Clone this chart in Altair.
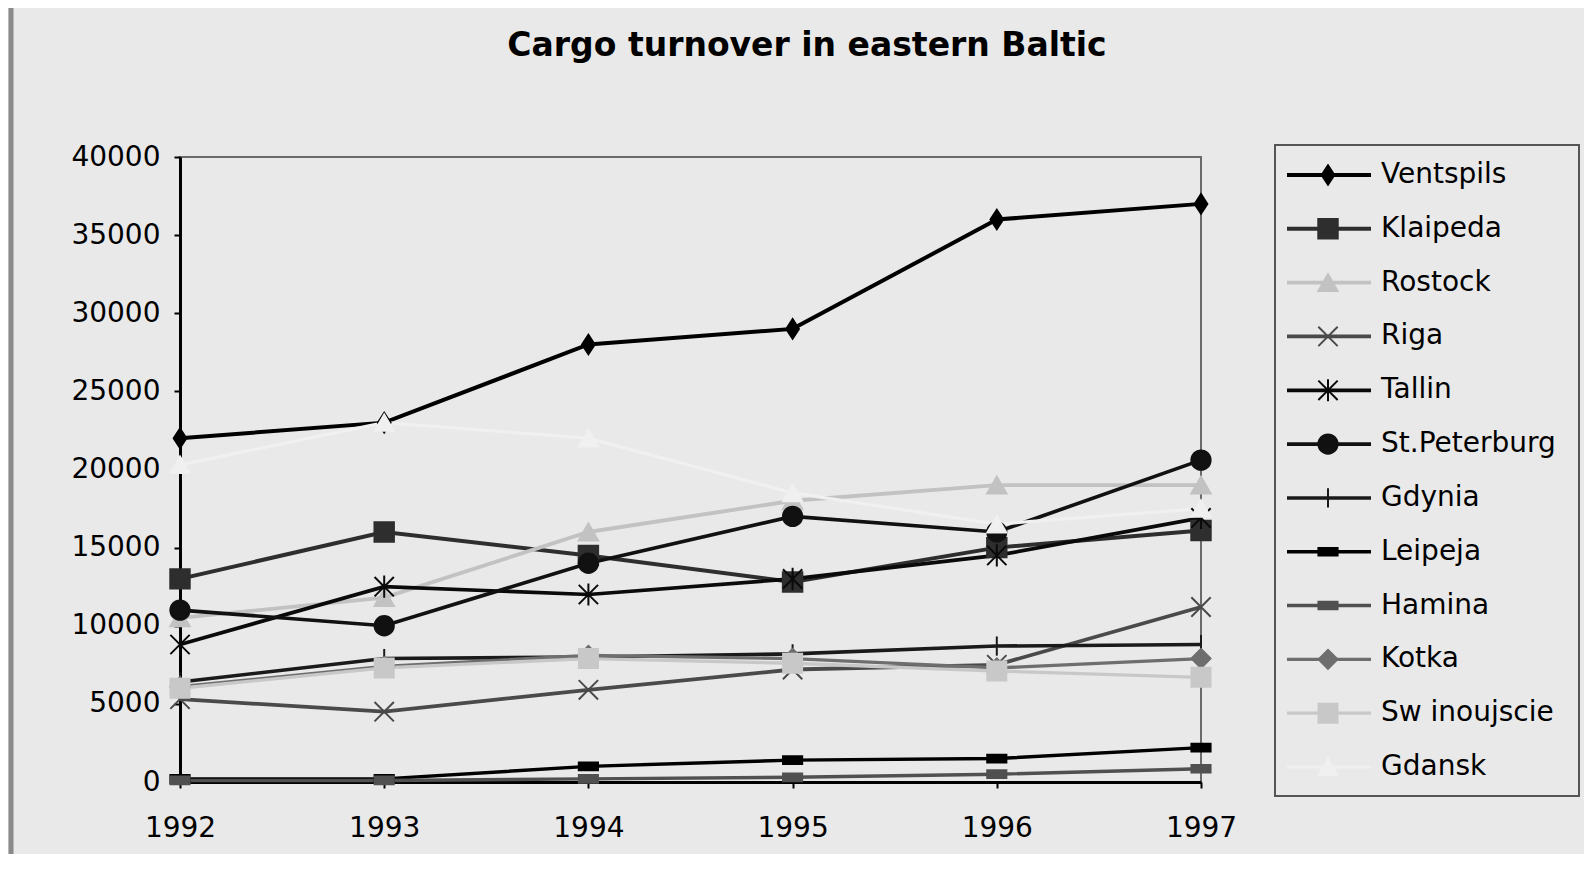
import altair as alt
import pandas as pd

years = [1992, 1993, 1994, 1995, 1996, 1997]
series_names = ["Ventspils", "Klaipeda", "Rostock", "Riga", "Tallin", "St.Peterburg",
                "Gdynia", "Leipeja", "Hamina", "Kotka", "Sw inoujscie", "Gdansk"]

ventspils = [22000, 23000, 28000, 29000, 36000, 37000]
klaipeda = [13000, 16000, 14500, 12800, 15000, 16100]
rostock = [10500, 11800, 16000, 18000, 19000, 19000]
riga = [5300, 4500, 5900, 7200, 7500, 11200]
tallin = [8800, 12500, 12000, 13000, 14500, 16900]
st_peterburg = [11000, 10000, 14000, 17000, 16000, 20600]
gdynia = [6400, 7900, 8000, 8200, 8700, 8800]
leipeja = [200, 200, 1000, 1400, 1500, 2200]
hamina = [100, 100, 200, 300, 500, 850]
kotka = [6100, 7400, 8100, 7900, 7300, 7900]
swinoujscie = [6000, 7300, 7900, 7600, 7100, 6700]
gdansk = [20300, 23000, 22000, 18500, 16500, 17500]

all_values = [ventspils, klaipeda, rostock, riga, tallin, st_peterburg,
              gdynia, leipeja, hamina, kotka, swinoujscie, gdansk]

colors = ["#000000", "#2e2e2e", "#c2c2c2", "#4a4a4a", "#0a0a0a", "#111111",
          "#1a1a1a", "#000000", "#505050", "#6e6e6e", "#c8c8c8", "#f0f0f0"]
shapes = ["M0,-1L0.65,0L0,1L-0.65,0Z", "square", "triangle-up",
          "M-1,-1L1,1M-1,1L1,-1", "M-1,-1L1,1M-1,1L1,-1M0,-1.15L0,1.15", "circle",
          "M0,-1L0,1", "M-1,-0.4L1,-0.4L1,0.4L-1,0.4Z", "M-1,-0.4L1,-0.4L1,0.4L-1,0.4Z",
          "diamond", "square", "triangle-up"]
sizes = [380, 360, 220, 300, 300, 440, 400, 256, 324, 300, 300, 220]
line_widths = [4, 3.2, 2, 2.5, 3.2, 3.2, 3, 3.2, 3, 3, 2, 2]

rows = []
for name, vals in zip(series_names, all_values):
    for yr, v in zip(years, vals):
        rows.append({"series": name, "year": yr, "value": v})
df = pd.DataFrame(rows)
leg = pd.DataFrame({"series": series_names, "idx": list(range(len(series_names)))})
one = pd.DataFrame({"a": [0]})

W, H = 1021, 625
FONT = "DejaVu Sans"

color_scale = alt.Scale(domain=series_names, range=colors)
shape_scale = alt.Scale(domain=series_names, range=shapes)
size_scale = alt.Scale(domain=series_names, range=sizes)
width_scale = alt.Scale(domain=series_names, range=line_widths)

xs = alt.Scale(domain=[1992, 1997], nice=False, zero=False)
ys = alt.Scale(domain=[0, 40000], nice=False)

x_axis = alt.Axis(values=years, format="d", title=None, grid=False, labelFont=FONT,
                  labelFontSize=28, labelColor="black", labelPadding=26, tickSize=6,
                  tickWidth=2, tickColor="black", domainColor="black", domainWidth=3,
                  labelFlush=False)
y_axis = alt.Axis(values=list(range(0, 40001, 5000)), format="d", title=None, grid=False,
                  labelFont=FONT, labelFontSize=28, labelColor="black", labelPadding=14,
                  tickSize=6, tickWidth=2, tickColor="black", domainColor="black",
                  domainWidth=3)

lines = alt.Chart(df).mark_line().encode(
    x=alt.X("year:Q", scale=xs, axis=x_axis),
    y=alt.Y("value:Q", scale=ys, axis=y_axis),
    stroke=alt.Stroke("series:N", scale=color_scale, legend=None),
    strokeWidth=alt.StrokeWidth("series:N", scale=width_scale, legend=None),
    detail="series:N",
)

points = alt.Chart(df).mark_point(filled=True, strokeWidth=2, opacity=1).encode(
    x=alt.X("year:Q", scale=xs, axis=None),
    y=alt.Y("value:Q", scale=ys, axis=None),
    fill=alt.Fill("series:N", scale=color_scale, legend=None),
    stroke=alt.Stroke("series:N", scale=color_scale, legend=None),
    shape=alt.Shape("series:N", scale=shape_scale, legend=None),
    size=alt.Size("series:N", scale=size_scale, legend=None),
)

leg_y = alt.Scale(domain=[0, 11], range=[18, 610])

leg_lines = alt.Chart(leg).mark_rule().encode(
    x=alt.value(1107), x2=alt.value(1191),
    y=alt.Y("idx:Q", scale=leg_y, axis=None),
    stroke=alt.Stroke("series:N", scale=color_scale, legend=None),
    strokeWidth=alt.StrokeWidth("series:N", scale=width_scale, legend=None),
)
leg_points = alt.Chart(leg).mark_point(filled=True, strokeWidth=2, opacity=1).encode(
    x=alt.value(1148),
    y=alt.Y("idx:Q", scale=leg_y, axis=None),
    fill=alt.Fill("series:N", scale=color_scale, legend=None),
    stroke=alt.Stroke("series:N", scale=color_scale, legend=None),
    shape=alt.Shape("series:N", scale=shape_scale, legend=None),
    size=alt.Size("series:N", scale=size_scale, legend=None),
)
leg_text = alt.Chart(leg).mark_text(align="left", baseline="middle", font=FONT,
                                    fontSize=28, color="black").encode(
    x=alt.value(1201),
    y=alt.Y("idx:Q", scale=leg_y, axis=None),
    text="series:N",
)
leg_box = alt.Chart(one).mark_rect(fillOpacity=0, stroke="#555555", strokeWidth=2).encode(
    x=alt.value(1095), x2=alt.value(1399), y=alt.value(-12), y2=alt.value(639)
)
title = alt.Chart(one).mark_text(font=FONT, fontSize=33, fontWeight="bold",
                                 color="black", baseline="middle", align="center").encode(
    x=alt.value(627), y=alt.value(-111), text=alt.value("Cargo turnover in eastern Baltic")
)
edge = alt.Chart(one).mark_rule(color="#8a8a8a", strokeWidth=5).encode(
    x=alt.value(-169), y=alt.value(-149), y2=alt.value(700)
)

chart = alt.layer(
    edge, title, lines, points, leg_box, leg_lines, leg_points, leg_text
).resolve_scale(
    x="independent", y="independent"
).properties(
    width=W, height=H, background="#e9e9e9",
    padding={"left": 172, "top": 149, "right": 383, "bottom": 72},
    autosize=alt.AutoSizeParams(type="none"),
).configure_view(stroke="#6a6a6a", strokeWidth=2)

chart.save("out.html", embed_options={"renderer": "svg", "actions": False})
